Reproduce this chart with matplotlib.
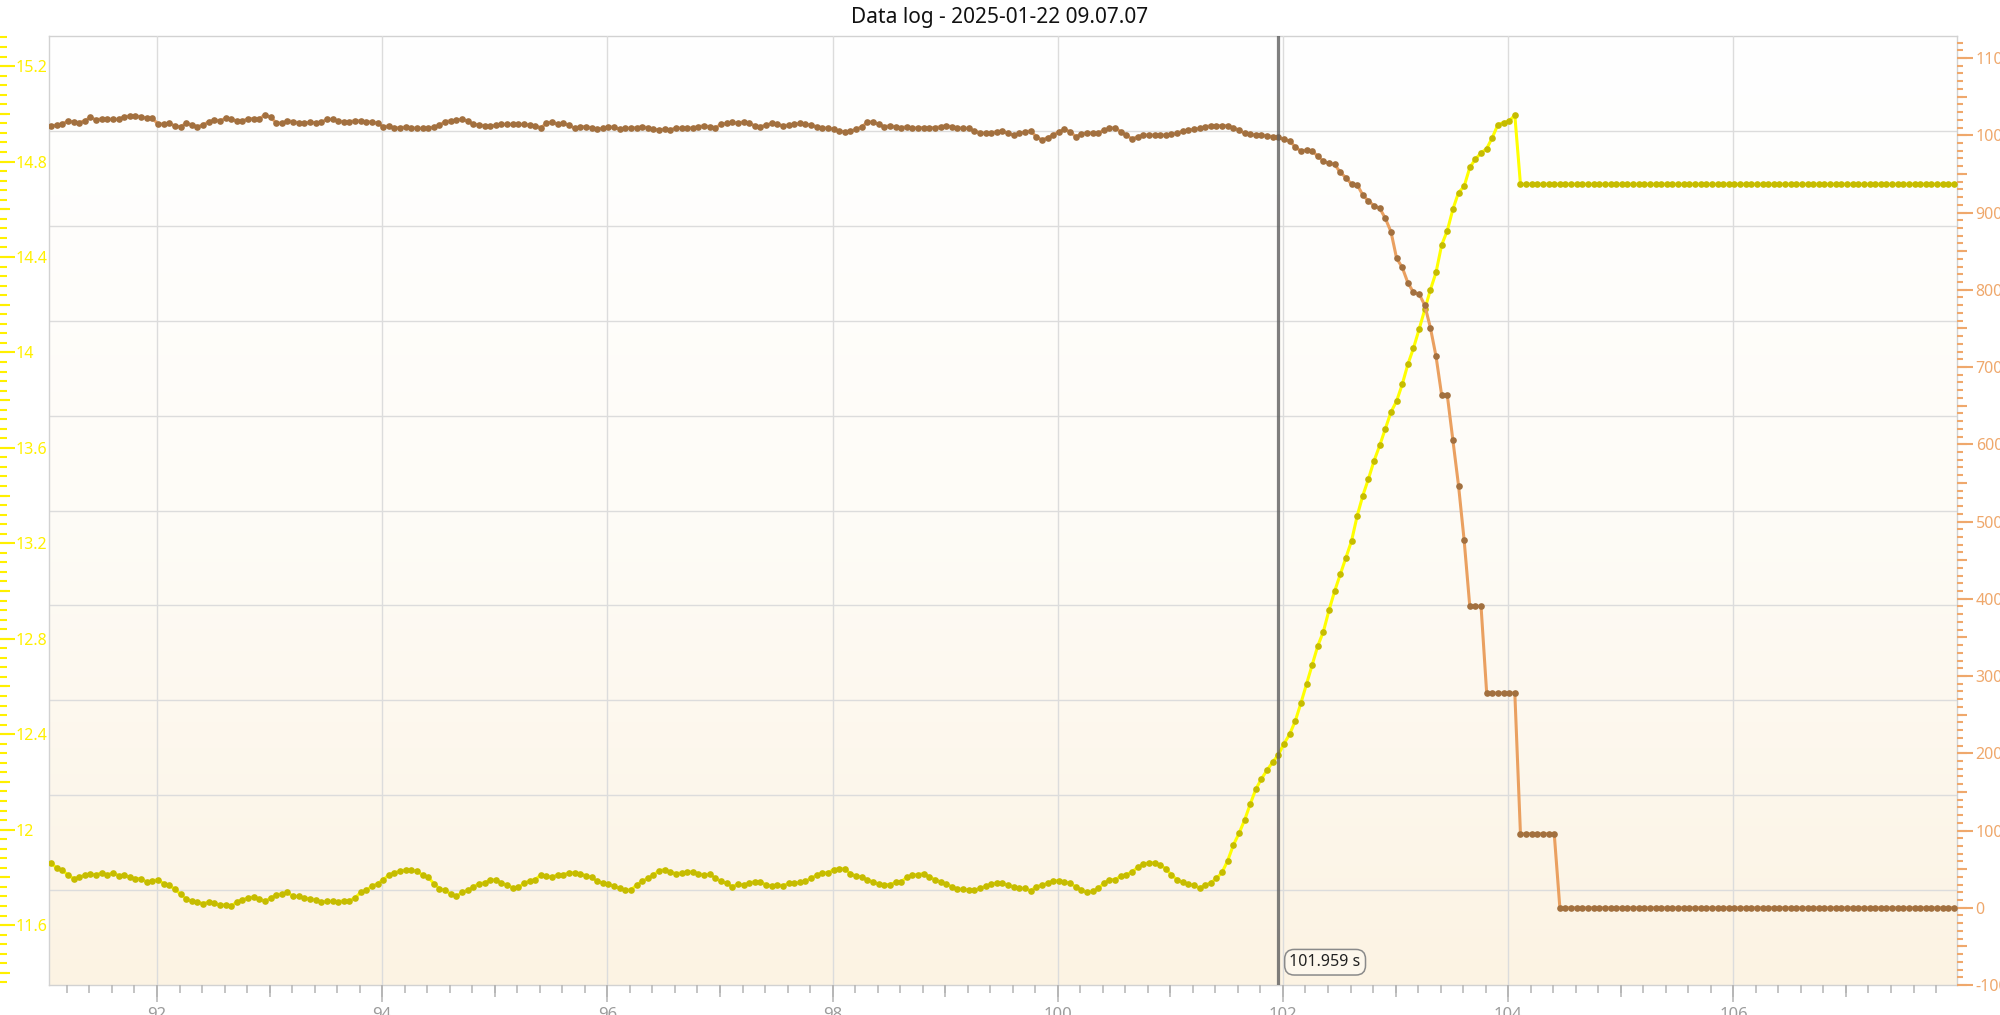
import numpy as np
import matplotlib.pyplot as plt
from matplotlib.ticker import MultipleLocator, FuncFormatter
from matplotlib.colors import LinearSegmentedColormap

plt.rcParams['font.family'] = ['Noto Sans', 'DejaVu Sans']

title = 'Data log - 2025-01-22 09.07.07'

# logger sample clock (s)
t_first = 91.059
dt = 0.05
cursor_t = 101.959

# left axis series (yellow)
voltage = [
    11.86, 11.84, 11.83, 11.81, 11.795, 11.80, 11.81, 11.815, 11.81, 11.82,
    11.81, 11.82, 11.807, 11.81, 11.80, 11.795, 11.795, 11.78, 11.786, 11.79,
    11.774, 11.767, 11.75, 11.73, 11.71, 11.70, 11.697, 11.69, 11.697, 11.694,
    11.683, 11.686, 11.68, 11.697, 11.707, 11.714, 11.718, 11.71, 11.70, 11.713,
    11.728, 11.73, 11.737, 11.72, 11.72, 11.714, 11.71, 11.707, 11.697, 11.70,
    11.70, 11.697, 11.703, 11.703, 11.714, 11.737, 11.746, 11.763, 11.774, 11.79,
    11.81, 11.82, 11.826, 11.832, 11.83, 11.825, 11.81, 11.80, 11.774, 11.753,
    11.746, 11.73, 11.72, 11.737, 11.746, 11.76, 11.774, 11.777, 11.79, 11.79,
    11.777, 11.768, 11.756, 11.758, 11.775, 11.786, 11.791, 11.810, 11.805, 11.800,
    11.812, 11.812, 11.819, 11.819, 11.816, 11.807, 11.800, 11.784, 11.777, 11.772,
    11.763, 11.754, 11.747, 11.747, 11.768, 11.784, 11.796, 11.810, 11.828, 11.833,
    11.823, 11.816, 11.819, 11.823, 11.823, 11.816, 11.810, 11.814, 11.796, 11.784,
    11.775, 11.761, 11.772, 11.768, 11.777, 11.782, 11.782, 11.768, 11.765, 11.769,
    11.765, 11.775, 11.775, 11.779, 11.784, 11.796, 11.810, 11.819, 11.819, 11.833,
    11.837, 11.835, 11.816, 11.805, 11.803, 11.789, 11.782, 11.772, 11.770, 11.770,
    11.779, 11.782, 11.800, 11.810, 11.812, 11.816, 11.803, 11.791, 11.782, 11.772,
    11.761, 11.751, 11.751, 11.747, 11.747, 11.754, 11.763, 11.772, 11.777, 11.775,
    11.768, 11.761, 11.754, 11.754, 11.744, 11.761, 11.768, 11.775, 11.786, 11.786,
    11.782, 11.775, 11.761, 11.749, 11.737, 11.742, 11.754, 11.775, 11.791, 11.791,
    11.805, 11.812, 11.823, 11.842, 11.856, 11.861, 11.861, 11.851, 11.837, 11.810,
    11.791, 11.779, 11.772, 11.766, 11.756, 11.768, 11.777, 11.796, 11.821, 11.870,
    11.935, 11.984, 12.040,
    12.107, 12.17, 12.213, 12.25, 12.283, 12.314, 12.36, 12.40, 12.455, 12.53,
    12.61, 12.69, 12.77, 12.83, 12.92, 13.00, 13.07, 13.14, 13.21, 13.315,
    13.40, 13.47, 13.546, 13.61, 13.68, 13.75, 13.796, 13.866, 13.95, 14.018,
    14.097, 14.18, 14.262, 14.335, 14.45, 14.51,
    14.60, 14.67, 14.696, 14.775, 14.81, 14.836, 14.854, 14.90, 14.955, 14.963,
    14.97, 14.994,
] + [14.705] * 78

# right axis series (brown)
speed = [
    1012.0, 1013.3, 1014.6, 1018.5, 1017.2, 1016.3, 1018.9, 1023.2, 1019.8, 1021.5,
    1021.1, 1020.6, 1020.6, 1024.1, 1024.9, 1024.9, 1024.1, 1022.3, 1021.9, 1014.6,
    1014.6, 1015.5, 1012.0, 1011.1, 1015.5, 1013.7, 1011.1, 1013.3, 1017.6, 1019.8,
    1018.9, 1021.9, 1021.1, 1018.5, 1018.5, 1021.5, 1021.5, 1021.1, 1026.7, 1023.2,
    1016.3, 1015.5, 1018.9, 1017.6, 1016.3, 1015.5, 1017.2, 1016.3, 1016.8, 1020.6,
    1020.6, 1018.5, 1017.6, 1017.6, 1018.9, 1018.5, 1017.6, 1017.2, 1015.5, 1011.1,
    1012.0, 1009.4,
    1009.8, 1010.7, 1009.8, 1008.9, 1008.9, 1009.4, 1010.7, 1013.3, 1017.6, 1018.9,
    1019.3, 1021.0, 1018.4, 1014.1, 1013.7, 1012.4, 1011.5, 1013.3, 1014.1, 1014.1,
    1014.1, 1014.1, 1014.1, 1013.3, 1012.4, 1009.8, 1015.4, 1017.6, 1014.1, 1015.4,
    1013.3, 1008.9, 1011.1, 1011.1, 1009.8, 1008.1, 1008.9, 1011.1, 1010.2, 1008.1,
    1008.9, 1009.4, 1009.8, 1011.1, 1009.8, 1008.1, 1006.8, 1008.1, 1006.8, 1009.8,
    1008.9, 1008.9, 1009.8, 1011.1, 1012.4, 1011.1, 1009.8, 1014.1, 1015.4, 1016.7,
    1015.4, 1017.6, 1015.4, 1012.4, 1011.1, 1013.3, 1015.4, 1014.1, 1012.4, 1013.3,
    1014.1, 1015.4, 1014.4, 1013.3, 1011.1, 1009.8, 1008.9, 1008.1, 1005.5, 1004.6,
    1005.5, 1007.7, 1011.1, 1016.7, 1017.6, 1014.1, 1011.1, 1012.4, 1011.1, 1009.8,
    1011.1, 1008.9, 1009.8, 1009.8, 1009.8, 1009.8, 1011.1, 1012.4, 1011.1, 1009.8,
    1008.9, 1008.9, 1005.5, 1003.3, 1002.5, 1003.3, 1004.6, 1005.5, 1002.5, 1000.3,
    1002.5, 1004.6, 1005.5, 998.2, 993.8, 996.9, 1000.3, 1004.6, 1007.7, 1004.6,
    998.2, 1001.2, 1003.3, 1002.5, 1002.5, 1006.8, 1008.9, 1009.8, 1004.6, 1000.3,
    995.1, 998.2, 1000.3, 1000.3, 1000.3, 1000.3, 1000.3, 1001.2, 1002.5, 1005.5,
    1006.8, 1007.7, 1008.9, 1011.1, 1012.4, 1012.4, 1012.4, 1012.4, 1009.8, 1006.8,
    1002.5, 1001.2, 1000.3, 1000.3, 999.5, 998.2,
    997.4, 994.7, 992.8, 984.8, 979.6, 980.9, 979.6, 972.9, 966.3, 963.7,
    962.4, 951.8, 945.2, 936.6, 935.9, 922.7, 914.8, 908.9, 905.6, 892.4,
    875.2, 840.8, 829.0, 809.1, 796.6, 794.6, 780.1, 751.0, 714.0, 663.8,
    663.8, 605.5, 546.6, 475.6, 390.3, 390.3, 390.3, 277.9, 277.9, 277.9,
    277.9, 277.9, 277.9, 95.8, 95.8, 95.8, 95.8, 95.8, 95.8, 95.8,
] + [0.0] * 71

assert len(voltage) == len(speed), (len(voltage), len(speed))
time = t_first + dt * np.arange(len(voltage))

yellow = '#fff000'
orange = '#efa86c'
gray_tick = '#b4b4b4'
grid_col = '#dcdcdc'

fig = plt.figure(figsize=(20, 10.15), dpi=100)
rect = [49 / 2000, 30 / 1015, 1908 / 2000, 949 / 1015]
left_off = -49 / 1908

# background with gradient and the evenly spaced horizontal grid
ax_bg = fig.add_axes(rect)
ax_bg.set_zorder(0)
cmap = LinearSegmentedColormap.from_list('bg', ['#ffffff', '#fefcf7', '#fcf3e3'])
ax_bg.imshow(np.linspace(1, 0, 256)[:, None], cmap=cmap, aspect='auto',
             origin='lower', extent=(0, 1, 0, 10), vmin=0, vmax=1)
ax_bg.set_xlim(0, 1)
ax_bg.set_ylim(0, 10)
ax_bg.set_xticks([])
ax_bg.set_yticks(range(1, 10))
ax_bg.tick_params(length=0, labelleft=False)
ax_bg.grid(axis='y', color=grid_col, lw=1.0)
for s in ax_bg.spines.values():
    s.set_color('#d2d2d2')
    s.set_linewidth(1.0)

ax = fig.add_axes(rect)
ax.set_zorder(1)
ax.patch.set_visible(False)
ax2 = ax.twinx()
ax2.set_zorder(2)
ax_ymid = ax.twinx()
ax_rmid = ax.twinx()
ax_xmid = ax.twiny()
for a in (ax_ymid, ax_rmid, ax_xmid):
    a.set_zorder(1)
    a.patch.set_visible(False)

xlim = (91.041, 107.986)
vlim = (11.349, 15.326)
slim = (-100, 1128.5)

ax.plot(time, voltage, color='#ffff00', lw=2.2, marker='o', ms=4.8,
        mfc='#c6bc00', mec='none', zorder=3)
ax2.plot(time, speed, color='#eaa060', lw=2.2, marker='o', ms=4.8,
         mfc='#a2703f', mec='none', zorder=3)
ax2.axvline(cursor_t, color='#5f5f5f', lw=2.3, alpha=0.8, zorder=5)

ax.set_xlim(xlim)
ax.set_ylim(vlim)
ax2.set_ylim(slim)
ax_ymid.set_ylim(vlim)
ax_rmid.set_ylim(slim)
ax_xmid.set_xlim(xlim)

fmt = FuncFormatter(lambda v, p: f'{round(v, 2):g}')

# x axis
ax.xaxis.set_major_locator(MultipleLocator(2))
ax.xaxis.set_minor_locator(MultipleLocator(0.2))
ax.xaxis.set_major_formatter(fmt)
ax.tick_params(axis='x', which='major', direction='out', length=12.2, width=1.1,
               color=gray_tick, labelcolor='#9c9c9c', labelsize=12, pad=3.5)
ax.tick_params(axis='x', which='minor', direction='out', length=5.8, width=1.1,
               color=gray_tick)
ax.grid(axis='x', which='major', color=grid_col, lw=1.0)
ax_xmid.xaxis.set_ticks_position('bottom')
ax_xmid.xaxis.set_major_locator(MultipleLocator(1))
ax_xmid.tick_params(axis='x', direction='out', length=8.6, width=1.1,
                    color=gray_tick, labelbottom=False, labeltop=False)

# left axis
ax.yaxis.set_major_locator(MultipleLocator(0.4))
ax.yaxis.set_minor_locator(MultipleLocator(0.04))
ax.yaxis.set_major_formatter(fmt)
ax.spines['left'].set_position(('axes', left_off))
ax.tick_params(axis='y', which='major', direction='in', length=10.8, width=1.5,
               color=yellow, labelcolor=yellow, labelsize=11.5, pad=-11.5)
ax.tick_params(axis='y', which='minor', direction='in', length=5.0, width=1.5,
               color=yellow)
for lab in ax.get_yticklabels():
    lab.set_horizontalalignment('left')
ax_ymid.yaxis.set_ticks_position('left')
ax_ymid.spines['left'].set_position(('axes', left_off))
ax_ymid.yaxis.set_major_locator(MultipleLocator(0.2))
ax_ymid.tick_params(axis='y', direction='in', length=7.2, width=1.5, color=yellow,
                    labelleft=False, labelright=False)

# right axis
ax2.yaxis.set_major_locator(MultipleLocator(100))
ax2.yaxis.set_minor_locator(MultipleLocator(10))
ax2.yaxis.set_major_formatter(fmt)
ax2.tick_params(axis='y', which='major', direction='out', length=11.5, width=1.5,
                color=orange, labelcolor=orange, labelsize=11.5, pad=2)
ax2.tick_params(axis='y', which='minor', direction='out', length=4.3, width=1.5,
                color=orange)
ax_rmid.yaxis.set_ticks_position('right')
ax_rmid.yaxis.set_major_locator(MultipleLocator(50))
ax_rmid.tick_params(axis='y', direction='out', length=7.2, width=1.5, color=orange,
                    labelleft=False, labelright=False)

for a in (ax, ax2, ax_ymid, ax_rmid, ax_xmid):
    for s in a.spines.values():
        s.set_visible(False)

ax2.annotate(f'{cursor_t:.3f} s', xy=(cursor_t, 0.024),
             xycoords=('data', 'axes fraction'), xytext=(8, 0),
             textcoords='offset points', ha='left', va='center', fontsize=11.5,
             color='#222222', zorder=6,
             bbox=dict(boxstyle='round,pad=0.3,rounding_size=0.6', fc='#fdf7ec',
                       ec='#8a8a8a', lw=1.1))

fig.text(0.5, 1 - 18 / 1015, title, ha='center', va='center', fontsize=15,
         color='#111111')

fig.savefig('out.png', dpi=100)
